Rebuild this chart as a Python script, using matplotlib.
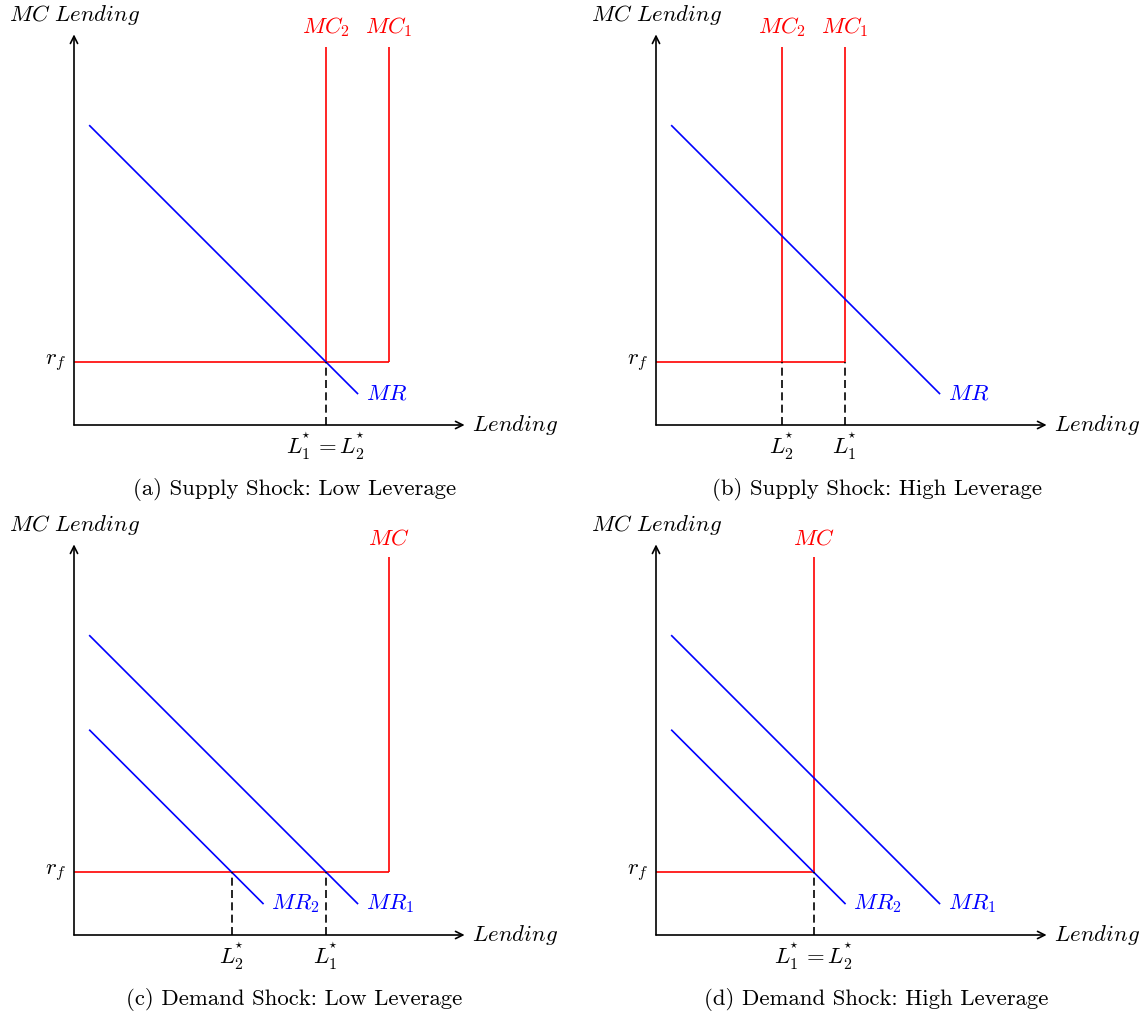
import matplotlib.pyplot as plt

plt.rcParams['mathtext.fontset'] = 'cm'

W, H = 1147, 1016
PX = 63  # pixels per diagram unit

# shared diagram values (diagram units)
axis_len = 6.2
rf = 1.0
mc_top = 6.0

# MR curves: x endpoints and y endpoints
mr1_x = [0.25, 4.5]
mr1_y = [4.75, 0.5]
mr2_x = [0.25, 3.0]
mr2_y = [3.25, 0.5]

# small star stacked over the subscript
L1 = r'L_1^{\!\!{}^\star}'
L2 = r'L_2^{\!\!{}^\star}'

# (a) Supply shock, low leverage
a_mc = [5.0, 4.0]
a_mc_labels = ['$MC_1$', '$MC_2$']
a_mr = [(mr1_x, mr1_y)]
a_mr_labels = ['$MR$']
a_eq = [4.0]
a_eq_labels = ['$' + L1 + ' = ' + L2 + '$']

# (b) Supply shock, high leverage
b_mc = [3.0, 2.0]
b_mc_labels = ['$MC_1$', '$MC_2$']
b_mr = [(mr1_x, mr1_y)]
b_mr_labels = ['$MR$']
b_eq = [3.0, 2.0]
b_eq_labels = ['$' + L1 + '$', '$' + L2 + '$']

# (c) Demand shock, low leverage
c_mc = [5.0]
c_mc_labels = ['$MC$']
c_mr = [(mr1_x, mr1_y), (mr2_x, mr2_y)]
c_mr_labels = ['$MR_1$', '$MR_2$']
c_eq = [4.0, 2.5]
c_eq_labels = ['$' + L1 + '$', '$' + L2 + '$']

# (d) Demand shock, high leverage
d_mc = [2.5]
d_mc_labels = ['$MC$']
d_mr = [(mr1_x, mr1_y), (mr2_x, mr2_y)]
d_mr_labels = ['$MR_1$', '$MR_2$']
d_eq = [2.5]
d_eq_labels = ['$' + L1 + ' = ' + L2 + '$']

captions = ['(a) Supply Shock: Low Leverage', '(b) Supply Shock: High Leverage',
            '(c) Demand Shock: Low Leverage', '(d) Demand Shock: High Leverage']
origins = [(74, 425), (656, 425), (74, 935), (656, 935)]

XL = (-1.15, 7.6)
YL = (-1.25, 6.8)
FS = 16.4
LW = 1.2


def make_axes(fig, ox, oy):
    left = (ox + XL[0] * PX) / W
    bottom = (H - oy + YL[0] * PX) / H
    width = (XL[1] - XL[0]) * PX / W
    height = (YL[1] - YL[0]) * PX / H
    ax = fig.add_axes([left, bottom, width, height])
    ax.set_xlim(*XL)
    ax.set_ylim(*YL)
    ax.axis('off')
    return ax


def draw_panel(ax, mc, mc_labels, mrs, mr_labels, eq, eq_labels, caption):
    arrow = dict(arrowstyle='->', lw=LW, color='black', shrinkA=0, shrinkB=0,
                 mutation_scale=13)
    ax.annotate('', xy=(axis_len, 0), xytext=(0, 0), arrowprops=arrow)
    ax.annotate('', xy=(0, axis_len), xytext=(0, 0), arrowprops=arrow)
    ax.text(0, axis_len + 0.12, '$MC\\ Lending$', ha='center', va='bottom', fontsize=FS)
    ax.text(axis_len + 0.12, 0, '$Lending$', ha='left', va='center', fontsize=FS)
    ax.text(-0.12, rf, '$r_f$', ha='right', va='center', fontsize=FS)

    # MC: flat at r_f, then vertical
    ax.plot([0, max(mc)], [rf, rf], color='red', lw=LW, solid_capstyle='butt')
    for x, lab in zip(mc, mc_labels):
        ax.plot([x, x], [rf, mc_top], color='red', lw=LW, solid_capstyle='butt')
        ax.text(x, mc_top + 0.12, lab, ha='center', va='bottom', fontsize=FS, color='red')

    for (xs, ys), lab in zip(mrs, mr_labels):
        ax.plot(xs, ys, color='blue', lw=LW)
        ax.text(xs[1] + 0.13, ys[1], lab, ha='left', va='center', fontsize=FS, color='blue')

    for x, lab in zip(eq, eq_labels):
        ax.plot([x, x], [0, rf], color='black', lw=LW, ls=(0, (4.8, 2.6)))
        ax.text(x, -0.08, lab, ha='center', va='top', fontsize=FS)

    ax.text(3.5, -1.03, caption, ha='center', va='center', fontsize=FS,
            family='cmr10')


fig = plt.figure(figsize=(W / 100, H / 100), dpi=100)

panels = [
    (a_mc, a_mc_labels, a_mr, a_mr_labels, a_eq, a_eq_labels),
    (b_mc, b_mc_labels, b_mr, b_mr_labels, b_eq, b_eq_labels),
    (c_mc, c_mc_labels, c_mr, c_mr_labels, c_eq, c_eq_labels),
    (d_mc, d_mc_labels, d_mr, d_mr_labels, d_eq, d_eq_labels),
]

for (ox, oy), p, cap in zip(origins, panels, captions):
    ax = make_axes(fig, ox, oy)
    draw_panel(ax, *p, cap)

fig.savefig('out.png', dpi=100)
